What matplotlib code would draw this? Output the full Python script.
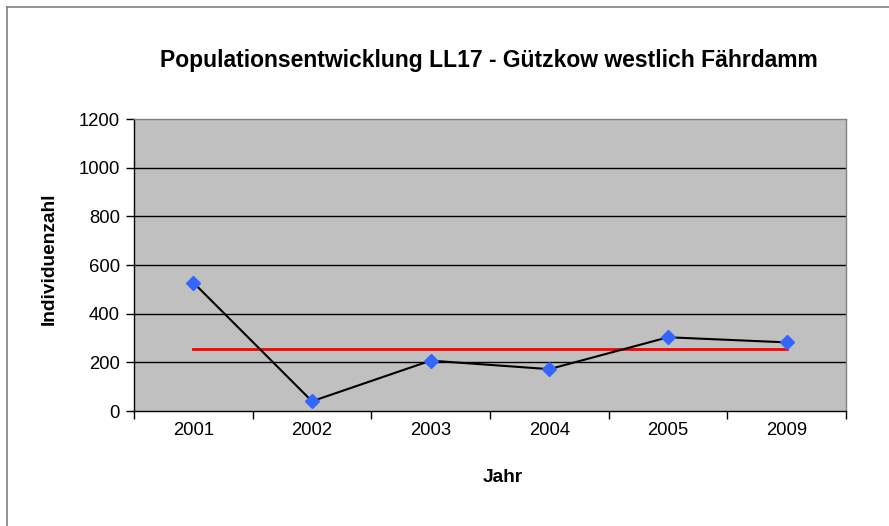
import matplotlib
matplotlib.use("Agg")
import matplotlib.pyplot as plt
from matplotlib.lines import Line2D

plt.rcParams['font.family'] = ['Liberation Sans', 'DejaVu Sans']

jahre = ["2001", "2002", "2003", "2004", "2005", "2009"]
individuen = [528, 40, 207, 172, 303, 282]
mittelwert = [255, 255, 255, 255, 255, 255]
y_ticks = [0, 200, 400, 600, 800, 1000, 1200]

fig = plt.figure(figsize=(8.89, 5.26), dpi=100)
ax = fig.add_axes([134/889, 1-411/526, (846-134)/889, (411-119)/526])
ax.set_facecolor('#C0C0C0')

x = list(range(len(jahre)))
ax.plot(x, mittelwert, color='#FF0000', lw=2, zorder=3)
ax.plot(x, individuen, color='black', lw=1.5, zorder=4,
        marker='D', markersize=7, markerfacecolor='#3366FF', markeredgecolor='#3366FF')

ax.set_xlim(-0.5, len(jahre) - 0.5)
ax.set_ylim(0, 1200)
ax.set_yticks(y_ticks)
ax.set_yticklabels([str(v) for v in y_ticks], fontsize=13.3)
ax.set_xticks([i - 0.5 for i in range(len(jahre) + 1)])
ax.set_xticklabels([])
ax.set_xticks(x, minor=True)
ax.set_xticklabels(jahre, minor=True, fontsize=13.3)
ax.tick_params(axis='x', which='major', direction='out', length=6, width=1, color='black')
ax.tick_params(axis='x', which='minor', length=0, pad=8)
ax.tick_params(axis='y', direction='out', length=6, width=1, color='black', pad=4)

for v in y_ticks[1:-1]:
    ax.axhline(v, color='black', lw=1, zorder=1)

ax.spines['left'].set_color('black')
ax.spines['bottom'].set_color('black')
ax.spines['top'].set_color('#808080')
ax.spines['right'].set_color('#808080')
for s in ax.spines.values():
    s.set_linewidth(1)

fig.text(489/889, 1-61/526, "Populationsentwicklung LL17 - Gützkow westlich Fährdamm",
         ha='center', va='center', fontsize=16.5, fontweight='bold')
fig.text(503/889, 1-477/526, "Jahr", ha='center', va='center', fontsize=13.8, fontweight='bold')
fig.text(49/889, 1-259/526, "Individuenzahl", ha='center', va='center', rotation=90,
         fontsize=13.8, fontweight='bold')

fig.add_artist(Line2D([6.5/889, 1], [1-6.5/526, 1-6.5/526], color='#808080', lw=1.2,
                      transform=fig.transFigure))
fig.add_artist(Line2D([6.5/889, 6.5/889], [0, 1-6.5/526], color='#808080', lw=1.2,
                      transform=fig.transFigure))

fig.savefig("out.png", dpi=100)
